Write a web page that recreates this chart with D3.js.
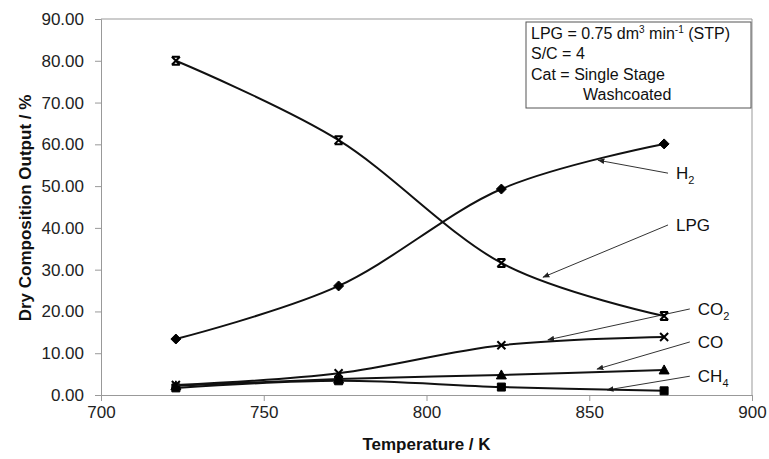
<!DOCTYPE html>
<html>
<head>
<meta charset="utf-8">
<script src="https://cdn.jsdelivr.net/npm/d3@7"></script>
<style>
  body { margin: 0; background: #fff; }
  svg { font-family: "Liberation Sans", Arial, sans-serif; }
</style>
</head>
<body>
<div id="chart"></div>
<script>
// temperatures (K)
var temps = [723, 773, 823, 873];

// dry composition output (%)
var lpg = [80.0, 61.0, 31.6, 18.9];
var h2  = [13.4, 26.1, 49.3, 60.1];
var co2 = [2.4, 5.2, 11.9, 13.9];
var co  = [2.2, 3.8, 4.8, 6.0];
var ch4 = [1.7, 3.4, 1.9, 1.0];

var xTicks = [700, 750, 800, 850, 900];
var yTicks = [0, 10, 20, 30, 40, 50, 60, 70, 80, 90];

// leader labels: text, line start (T, value), arrow target (T, value)
var labelNames = ['H2', 'LPG', 'CO2', 'CO', 'CH4'];
var labelSub   = ['2', '', '2', '', '4'];
var labelBase  = ['H', 'LPG', 'CO', 'CO', 'CH'];
var startT = [874.2, 874.2, 880.9, 880.9, 880.9];
var startV = [53.1, 40.7, 20.6, 12.7, 4.5];
var endT   = [852.7, 835.8, 837.3, 852.4, 855.5];
var endV   = [56.2, 28.2, 13.2, 6.2, 1.2];

var width = 769, height = 459;
var margin = {left: 101, right: 17, top: 19, bottom: 64};

var chart = {};

chart.create = function(el) {
  this.svg = d3.select(el).append('svg')
    .attr('width', width)
    .attr('height', height);

  var x = d3.scaleLinear().domain([700, 900]).range([margin.left, width - margin.right]);
  var y = d3.scaleLinear().domain([0, 90]).range([height - margin.bottom, margin.top]);
  this.x = x; this.y = y;

  var svg = this.svg;

  // arrow head for leaders
  svg.append('defs').append('marker')
    .attr('id', 'arrow')
    .attr('viewBox', '0 0 10 10')
    .attr('refX', 9).attr('refY', 5)
    .attr('markerWidth', 7).attr('markerHeight', 7)
    .attr('markerUnits', 'userSpaceOnUse')
    .attr('orient', 'auto')
    .append('path')
    .attr('d', 'M0,1 L10,5 L0,9 Z')
    .attr('fill', '#222');

  // plot frame (top and right)
  svg.append('path')
    .attr('d', 'M' + x(700) + ',' + y(90) + 'H' + x(900) + 'V' + y(0))
    .attr('fill', 'none')
    .attr('stroke', '#999')
    .attr('stroke-width', 1);

  var xAxis = svg.append('g')
    .attr('transform', 'translate(0,' + y(0) + ')')
    .call(d3.axisBottom(x).tickValues(xTicks).tickSize(6).tickPadding(5).tickFormat(d3.format('d')));
  var yAxis = svg.append('g')
    .attr('transform', 'translate(' + x(700) + ',0)')
    .call(d3.axisLeft(y).tickValues(yTicks).tickSize(6).tickPadding(11).tickFormat(d3.format('.2f')));

  [xAxis, yAxis].forEach(function(a) {
    a.select('.domain').attr('stroke', '#999');
    a.selectAll('.tick line').attr('stroke', '#999');
    a.selectAll('.tick text')
      .attr('font-family', '"Liberation Sans", Arial, sans-serif')
      .attr('font-size', '17px')
      .attr('fill', '#222');
  });

  // axis titles
  svg.append('text')
    .attr('x', (x(700) + x(900)) / 2)
    .attr('y', 450)
    .attr('text-anchor', 'middle')
    .attr('font-size', '17px')
    .attr('font-weight', 'bold')
    .attr('fill', '#111')
    .text('Temperature / K');

  svg.append('text')
    .attr('transform', 'translate(31,' + 208 + ') rotate(-90)')
    .attr('text-anchor', 'middle')
    .attr('font-size', '17px')
    .attr('font-weight', 'bold')
    .attr('fill', '#111')
    .text('Dry Composition  Output / %');

  // leader lines
  labelNames.forEach(function(name, i) {
    svg.append('line')
      .attr('x1', x(startT[i])).attr('y1', y(startV[i]))
      .attr('x2', x(endT[i])).attr('y2', y(endV[i]))
      .attr('stroke', '#333')
      .attr('stroke-width', 1)
      .attr('marker-end', 'url(#arrow)');
    var t = svg.append('text')
      .attr('x', x(startT[i]) + 8)
      .attr('y', y(startV[i]) + 6)
      .attr('font-size', '17px')
      .attr('fill', '#111')
      .text(labelBase[i]);
    if (labelSub[i]) {
      t.append('tspan')
        .attr('dy', 5)
        .attr('font-size', '11px')
        .text(labelSub[i]);
    }
  });

  var line = d3.line()
    .x(function(d, i) { return x(temps[i]); })
    .y(function(d) { return y(d); })
    .curve(d3.curveCardinal.tension(0));

  var series = [
    {vals: ch4, shape: 'square'},
    {vals: co, shape: 'triangle'},
    {vals: co2, shape: 'cross'},
    {vals: h2, shape: 'diamond'},
    {vals: lpg, shape: 'star'}
  ];

  series.forEach(function(s) {
    svg.append('path')
      .attr('d', line(s.vals))
      .attr('fill', 'none')
      .attr('stroke', '#111')
      .attr('stroke-width', 2);

    svg.selectAll(null)
      .data(s.vals)
      .enter()
      .append('path')
      .attr('transform', function(d, i) { return 'translate(' + x(temps[i]) + ',' + y(d) + ')'; })
      .attr('d', function() {
        if (s.shape === 'square') return 'M-4,-4H4V4H-4Z';
        if (s.shape === 'triangle') return 'M0,-5L5,4H-5Z';
        if (s.shape === 'diamond') return 'M0,-5L5,0L0,5L-5,0Z';
        if (s.shape === 'cross') return 'M-4,-4L4,4M4,-4L-4,4';
        return 'M-4,-4L4,4M4,-4L-4,4M-4,-4H4M-4,4H4';
      })
      .attr('fill', s.shape === 'cross' || s.shape === 'star' ? 'none' : '#000')
      .attr('stroke', '#000')
      .attr('stroke-width', s.shape === 'cross' || s.shape === 'star' ? 2 : 1);
  });

  // info box
  var bx = 526, by = 22, bw = 225, bh = 86;
  svg.append('rect')
    .attr('x', bx).attr('y', by)
    .attr('width', bw).attr('height', bh)
    .attr('fill', '#fff')
    .attr('stroke', '#555')
    .attr('stroke-width', 1);

  var box = svg.append('text')
    .attr('font-size', '16px')
    .attr('fill', '#111');
  var l1 = box.append('tspan').attr('x', bx + 5).attr('y', by + 17);
  l1.append('tspan').text('LPG = 0.75 dm');
  l1.append('tspan').attr('dy', -6).attr('font-size', '10px').text('3');
  l1.append('tspan').attr('dy', 6).text(' min');
  l1.append('tspan').attr('dy', -6).attr('font-size', '10px').text('-1');
  l1.append('tspan').attr('dy', 6).text(' (STP)');
  box.append('tspan').attr('x', bx + 5).attr('y', by + 37).text('S/C = 4');
  box.append('tspan').attr('x', bx + 5).attr('y', by + 58).text('Cat = Single Stage');
  box.append('tspan').attr('x', bx + 57).attr('y', by + 78).text('Washcoated');
};

chart.create(document.getElementById('chart'));
</script>
</body>
</html>
